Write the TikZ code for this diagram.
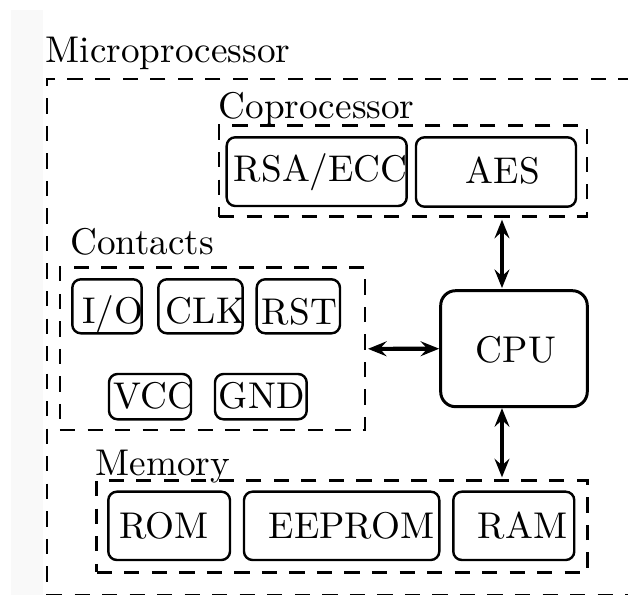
\documentclass[tikz,border=0pt]{standalone}
\usetikzlibrary{arrows.meta}
% #1 style, #2 name, #3 left, #4 top, #5 right, #6 bottom, #7 text x, #8 baseline y, #9 text  (all in px)
\newcommand\tbxmk[9]{%
  \pgfmathsetlengthmacro\tbxW{(#5-#3)*0.2688pt}%
  \pgfmathsetlengthmacro\tbxH{(#6-#4)*0.2688pt}%
  \pgfmathsetlengthmacro\tbxD{(#6-#8)*0.2688pt}%
  \pgfmathsetlengthmacro\tbxO{(#7-#3)*0.2688pt}%
  \node[#1] (#2) at (#3,#8) {\makebox[\tbxW][l]{\hspace*{\tbxO}\rule[-\tbxD]{0pt}{\tbxH}#9}};%
}
\tikzset{
  tb/.style={anchor=base west, inner sep=0pt, outer sep=0pt},
  lab/.style={anchor=base west, inner sep=0pt, outer sep=0pt},
  cbox/.style={tb, draw, rounded corners=2.3pt, line width=0.65pt},
  cpubox/.style={tb, draw, rounded corners=4pt, line width=0.8pt},
  cont/.style={tb, draw, line width=0.75pt, dash pattern=on 4.1pt off 3.3pt},
  arr/.style={line width=1.1pt, {Stealth[length=5pt,width=4pt,inset=1.8pt]}-{Stealth[length=5pt,width=4pt,inset=1.8pt]}}
}
\begin{document}
\begin{tikzpicture}[x=0.2688pt, y=-0.2688pt]
\clip (0,0) rectangle (628,595);
\fill[white] (0,0) rectangle (628,595);
\fill[black!2.5] (11,10) rectangle (43,595);

% outer container
\node[lab] (lmp) at (45.8,62) {Microprocessor};
\tbxmk{cont}{mp}{47}{79}{660}{595.6}{47}{595.6}{}

% coprocessor
\node[lab] (lcop) at (218.6,118.3) {Coprocessor};
\tbxmk{cont}{cop}{219}{125.7}{587}{216.7}{219}{216.7}{}
\tbxmk{cbox}{rsa}{226.7}{137.3}{406.7}{206}{234}{181}{RSA/ECC}
\tbxmk{cbox}{aes}{416}{137.3}{576}{206.7}{466}{183}{AES}

% contacts
\node[lab] (lcon) at (70.2,254.3) {Contacts};
\tbxmk{cont}{con}{60}{267.7}{365}{430}{60}{430}{}
\tbxmk{cbox}{io}{72.3}{279.3}{141.7}{333.3}{82.5}{323}{I/O}
\tbxmk{cbox}{clk}{158.3}{279.3}{242.7}{333.3}{166}{323.5}{CLK}
\tbxmk{cbox}{rst}{256.7}{279.3}{340}{333.3}{262}{324.5}{RST}
\tbxmk{cbox}{vcc}{109}{374}{191}{419.3}{114}{409}{VCC}
\tbxmk{cbox}{gnd}{215}{374}{306.7}{419.3}{219}{409}{GND}

% CPU
\tbxmk{cpubox}{cpu}{440.7}{290.7}{587.3}{406.7}{476}{362}{CPU}

% memory
\node[lab] (lmem) at (95.5,475.5) {Memory};
\tbxmk{cont}{mem}{96.7}{480.7}{587.5}{572.3}{96.7}{572.3}{}
\tbxmk{cbox}{rom}{108.3}{491.7}{230}{560}{119.5}{539}{ROM}
\tbxmk{cbox}{eeprom}{244}{491.7}{439.3}{560}{269}{539}{EEPROM}
\tbxmk{cbox}{ram}{453.3}{491.7}{574.3}{560}{478}{539}{RAM}

% connectors
\coordinate (bus) at (502,0);
\draw[arr, shorten <=0.8pt, shorten >=0.7pt] (bus |- cop.south) -- (bus |- cpu.north);
\draw[arr, shorten <=0.8pt, shorten >=0.4pt] (con.east) -- (cpu.west);
\draw[arr, shorten <=0.4pt, shorten >=0.9pt] (bus |- cpu.south) -- (bus |- mem.north);
\end{tikzpicture}
\end{document}
